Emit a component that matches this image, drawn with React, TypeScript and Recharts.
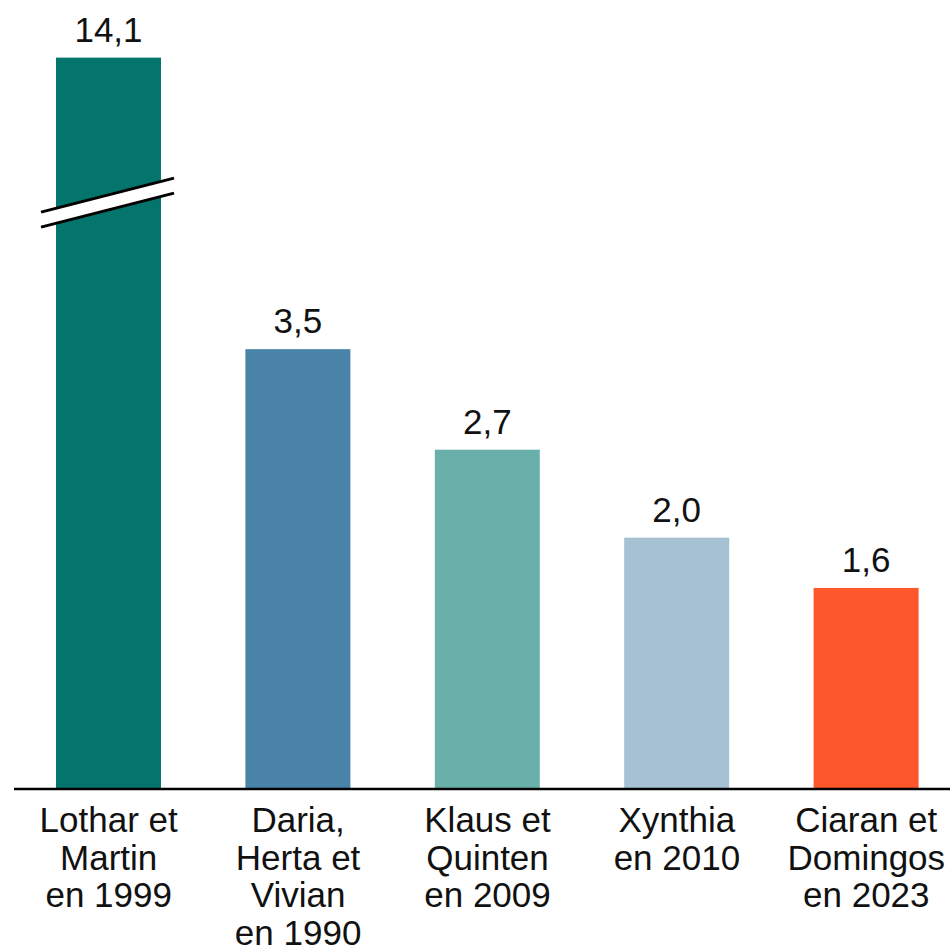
import React from "react";
import { Bar, BarChart, Cell, LabelList, XAxis, YAxis } from "recharts";

const categories = [
  "Lothar et\nMartin\nen 1999",
  "Daria,\nHerta et\nVivian\nen 1990",
  "Klaus et\nQuinten\nen 2009",
  "Xynthia\nen 2010",
  "Ciaran et\nDomingos\nen 2023",
];
const values = [14.1, 3.5, 2.7, 2.0, 1.6];
const colors = ["#03756c", "#4a83a8", "#69b0ab", "#a5c1d3", "#fd572c"];
// bars above this value are cut with a break mark
const BREAK_AT = 5.82;

const FONT = "'Liberation Sans', Arial, sans-serif";

const chartData = categories.map((name, i) => ({
  name,
  value: values[i],
  shown: Math.min(values[i], BREAK_AT),
}));

const fmt = (v: number) => v.toFixed(1).replace(".", ",");

const CategoryTick = (props: any) => {
  const { x, y, payload } = props;
  const lines = String(payload.value).split("\n");
  return (
    <text
      x={x}
      y={y}
      textAnchor="middle"
      fill="#111"
      fontSize={35}
      fontFamily={FONT}
    >
      {lines.map((line, i) => (
        <tspan key={i} x={x} dy={i === 0 ? 43 : 37.5}>
          {line}
        </tspan>
      ))}
    </text>
  );
};

const BrokenBar = (props: any) => {
  const { x, y, width, height, fill, payload } = props;
  const broken = payload && payload.value > payload.shown;
  if (!broken) {
    return <rect x={x} y={y} width={width} height={height} fill={fill} />;
  }
  // break mark: two slanted lines with a white gap, wider than the bar
  const x0 = x - 15;
  const x1 = x + width + 13;
  const cy = y + 145;
  const rise = 17;
  const gap = 15;
  const top0 = cy + rise - gap / 2;
  const top1 = cy - rise - gap / 2;
  return (
    <g>
      <rect x={x} y={y} width={width} height={height} fill={fill} />
      <polygon
        points={`${x0},${top0} ${x1},${top1} ${x1},${top1 + gap} ${x0},${top0 + gap}`}
        fill="#fff"
      />
      <line x1={x0} y1={top0} x2={x1} y2={top1} stroke="#000" strokeWidth={3} />
      <line
        x1={x0}
        y1={top0 + gap}
        x2={x1}
        y2={top1 + gap}
        stroke="#000"
        strokeWidth={3}
      />
    </g>
  );
};

export default function App() {
  return (
    <div
      style={{
        position: "absolute",
        left: 0,
        top: 0,
        width: 950,
        height: 948,
        overflow: "hidden",
        background: "#fff",
      }}
    >
      <BarChart
        width={961}
        height={948}
        data={chartData}
        margin={{ top: 35, right: 0, left: 14, bottom: 0 }}
      >
        <YAxis hide domain={[0, 6]} />
        <XAxis
          dataKey="name"
          height={159}
          interval={0}
          tickLine={false}
          tickSize={0}
          tickMargin={0}
          axisLine={{ stroke: "#000", strokeWidth: 2.5 }}
          tick={<CategoryTick />}
        />
        <Bar
          dataKey="shown"
          barSize={105}
          isAnimationActive={false}
          shape={<BrokenBar />}
        >
          {chartData.map((d, i) => (
            <Cell key={d.name} fill={colors[i]} />
          ))}
          <LabelList
            dataKey="value"
            position="top"
            offset={16}
            formatter={(v: any) => fmt(Number(v))}
            fill="#111"
            fontSize={35}
            fontFamily={FONT}
          />
        </Bar>
      </BarChart>
    </div>
  );
}
